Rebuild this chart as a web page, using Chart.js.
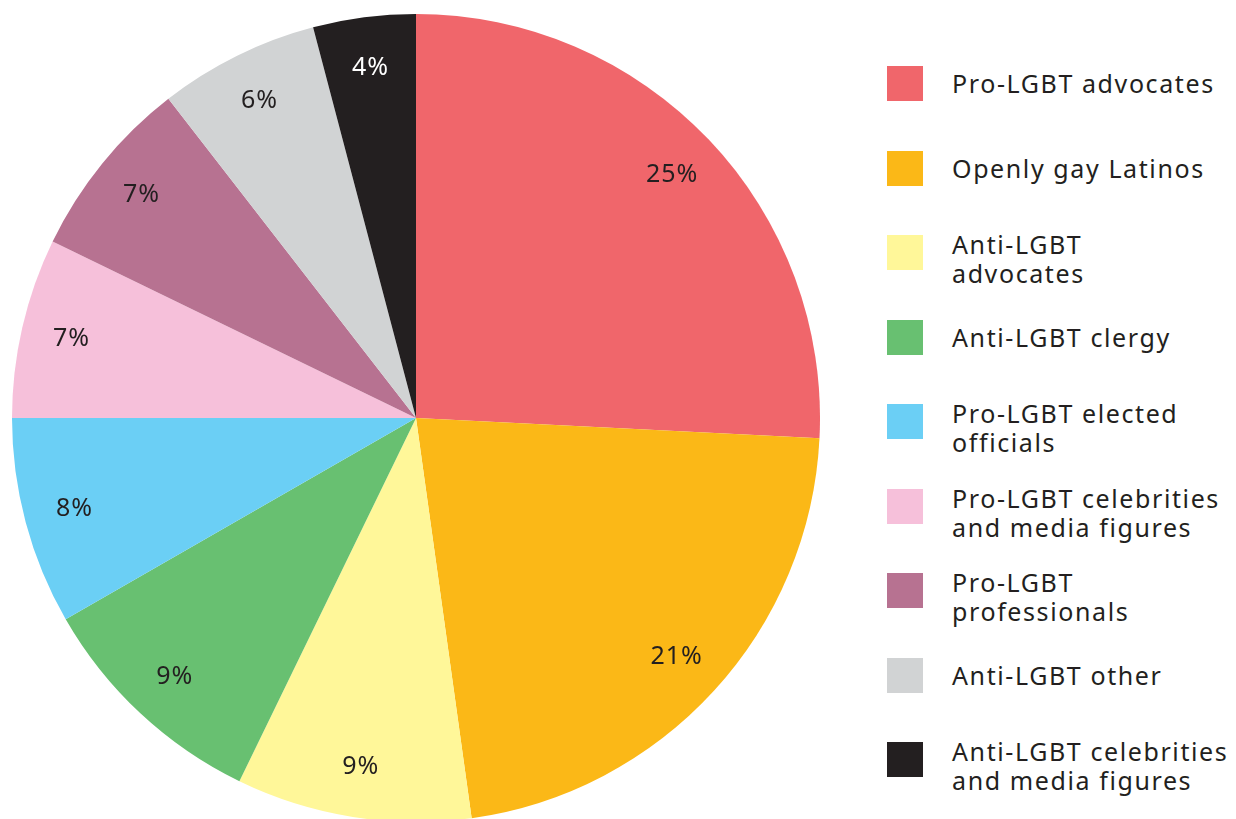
<!DOCTYPE html>
<html>
<head>
<meta charset="utf-8">
<script src="https://cdn.jsdelivr.net/npm/chart.js@4"></script>
<style>
    body { margin: 0; width: 1236px; height: 819px; overflow: hidden; background: #fff; font-family: "Noto Sans", sans-serif; color: #231f20; }
    #pieBox { position: absolute; left: 12px; top: 14px; width: 808px; height: 808px; }
    #legend { position: absolute; left: 887px; top: 0; }
    .item { position: absolute; left: 0; width: 360px; }
    .swatch { position: absolute; left: 0; top: 0; width: 36px; height: 35px; }
    .txt { position: absolute; left: 65px; font-size: 25px; line-height: 29px; letter-spacing: 1.6px; white-space: nowrap; }
</style>
</head>
<body>
<div id="pieBox"><canvas id="pie"></canvas></div>
<div id="legend"></div>
<script>
// categories, in the order the slices go round (clockwise from 12 o'clock)
const categories = [
    ['Pro-LGBT advocates'],
    ['Openly gay Latinos'],
    ['Anti-LGBT', 'advocates'],
    ['Anti-LGBT clergy'],
    ['Pro-LGBT elected', 'officials'],
    ['Pro-LGBT celebrities', 'and media figures'],
    ['Pro-LGBT', 'professionals'],
    ['Anti-LGBT other'],
    ['Anti-LGBT celebrities', 'and media figures']
];
// slice sizes
const shares = [25.8, 22.0, 9.4, 9.5, 8.3, 7.2, 7.3, 6.4, 4.1];
// printed labels
const pctLabels = ['25%', '21%', '9%', '9%', '8%', '7%', '7%', '6%', '4%'];
const colors = ['#f0666b', '#fbb817', '#fff799', '#68c071', '#6bcff5', '#f6c0da', '#b77291', '#d1d3d4', '#231f20'];
const labelColors = ['#231f20', '#231f20', '#231f20', '#231f20', '#231f20', '#231f20', '#231f20', '#231f20', '#ffffff'];

// legend
const legend = document.getElementById('legend');
categories.forEach(function(lines, i) {
    const top = 66 + i * 84.5;
    const item = document.createElement('div');
    item.className = 'item';
    item.style.top = top + 'px';
    const sw = document.createElement('div');
    sw.className = 'swatch';
    sw.style.background = colors[i];
    item.appendChild(sw);
    const t = document.createElement('div');
    t.className = 'txt';
    t.style.top = (lines.length > 1 ? -5 : 3) + 'px';
    t.innerHTML = lines.join('<br>');
    item.appendChild(t);
    legend.appendChild(item);
});

// draws the percentage text inside each slice
const sliceLabels = {
    id: 'sliceLabels',
    afterDatasetsDraw(chart) {
        const ctx = chart.ctx;
        const meta = chart.getDatasetMeta(0);
        ctx.save();
        ctx.font = '25px "Noto Sans", sans-serif';
        ctx.letterSpacing = '1px';
        ctx.textAlign = 'center';
        ctx.textBaseline = 'middle';
        meta.data.forEach(function(arc, i) {
            const p = arc.getProps(['x', 'y', 'startAngle', 'endAngle', 'outerRadius'], true);
            const mid = (p.startAngle + p.endAngle) / 2;
            const r = p.outerRadius * 0.875;
            ctx.fillStyle = labelColors[i];
            ctx.fillText(pctLabels[i], p.x + Math.cos(mid) * r, p.y + Math.sin(mid) * r);
        });
        ctx.restore();
    }
};

new Chart(document.getElementById('pie'), {
    type: 'pie',
    data: {
        labels: categories.map(function(l) { return l.join(' '); }),
        datasets: [{
            data: shares,
            backgroundColor: colors,
            borderWidth: 0
        }]
    },
    options: {
        responsive: true,
        maintainAspectRatio: false,
        animation: false,
        layout: { padding: 0 },
        plugins: {
            legend: { display: false },
            tooltip: { enabled: false }
        }
    },
    plugins: [sliceLabels]
});
</script>
</body>
</html>
